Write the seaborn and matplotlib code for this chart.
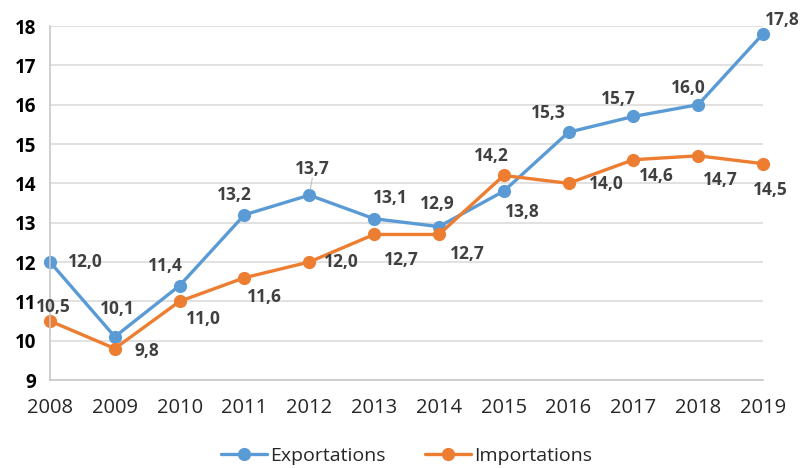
import matplotlib
matplotlib.use("Agg")
import matplotlib.pyplot as plt
import seaborn as sns
import pandas as pd
from matplotlib.lines import Line2D

years = [2008, 2009, 2010, 2011, 2012, 2013, 2014, 2015, 2016, 2017, 2018, 2019]
exportations = [12.0, 10.1, 11.4, 13.2, 13.7, 13.1, 12.9, 13.8, 15.3, 15.7, 16.0, 17.8]
importations = [10.5, 9.8, 11.0, 11.6, 12.0, 12.7, 12.7, 14.2, 14.0, 14.6, 14.7, 14.5]
series_names = ["Exportations", "Importations"]
y_ticks = [9, 10, 11, 12, 13, 14, 15, 16, 17, 18]

colors = {"Exportations": "#5B9BD5", "Importations": "#ED7D31"}

# label offsets in pixels (dx, dy with dy positive = downwards)
exp_off = [(35, 0), (3, -28), (-14, -20), (-10, -20), (3, -26), (16, -21),
           (-2, -23), (19, 21), (-20, -19), (-15, -17), (-10, -17), (19, -14)]
imp_off = [(3, -14), (32, 2), (24, 18), (20, 19), (32, 0), (27, 26),
           (28, 20), (-12, -19), (38, 1), (23, 16), (22, 24), (7, 26)]

df = pd.DataFrame({
    "year": years * 2,
    "value": exportations + importations,
    "serie": [series_names[0]] * len(years) + [series_names[1]] * len(years),
})

sns.set_theme(style="white")
plt.rcParams["font.family"] = ["Open Sans", "DejaVu Sans"]

fig = plt.figure(figsize=(8.05, 4.68), dpi=100)
ax = fig.add_axes([50 / 805, 1 - 380 / 468, (763 - 50) / 805, (380 - 26) / 468])

sns.lineplot(data=df, x="year", y="value", hue="serie", palette=colors,
             marker="o", markersize=9.5, markeredgewidth=0, linewidth=2.4,
             ax=ax, legend=False, clip_on=False)

ax.set_xlim(years[0], years[-1])
ax.set_ylim(y_ticks[0], y_ticks[-1])
ax.set_yticks(y_ticks)
ax.set_xticks(years)
ax.set_xticklabels([str(y) for y in years])
ax.set_xlabel("")
ax.set_ylabel("")
ax.yaxis.grid(True, color="#D9D9D9", linewidth=1.1)
ax.xaxis.grid(False)
for s in ["top", "right"]:
    ax.spines[s].set_visible(False)
for s in ["left", "bottom"]:
    ax.spines[s].set_color("#C8C8C8")
    ax.spines[s].set_linewidth(1.2)
ax.tick_params(axis="y", length=0, pad=10, labelsize=13.5, labelcolor="#000000")
ax.tick_params(axis="x", length=0, pad=13, labelsize=14.5, labelcolor="#262626")
for t in ax.get_yticklabels():
    t.set_fontweight("bold")

def fmt(v):
    return f"{v:.1f}".replace(".", ",")

for vals, offs in [(exportations, exp_off), (importations, imp_off)]:
    for i, (x, v, (dx, dy)) in enumerate(zip(years, vals, offs)):
        ax.annotate(fmt(v), xy=(x, v), xytext=(dx * 0.72, -dy * 0.72),
                    textcoords="offset points", ha="center", va="center",
                    fontsize=12.5, fontweight="bold", color="#404040",
                    annotation_clip=False)

# small leader line for the 2012 export label
ax.annotate("", xy=(years[4], exportations[4]), xytext=(3 * 0.72, 17 * 0.72),
            textcoords="offset points",
            arrowprops=dict(arrowstyle="-", color="#BFBFBF", lw=0.8,
                            shrinkA=0, shrinkB=4))

handles = [Line2D([0], [0], color=colors[n], marker="o", markersize=9.5,
                  linewidth=2.4, markeredgewidth=0) for n in series_names]
fig.legend(handles, series_names, loc="center", bbox_to_anchor=(0.505, 12 / 468),
           ncol=2, frameon=False, fontsize=14, handlelength=2.4,
           columnspacing=2.0, handletextpad=0.15, labelcolor="#262626")

fig.savefig("out.png", dpi=100)
